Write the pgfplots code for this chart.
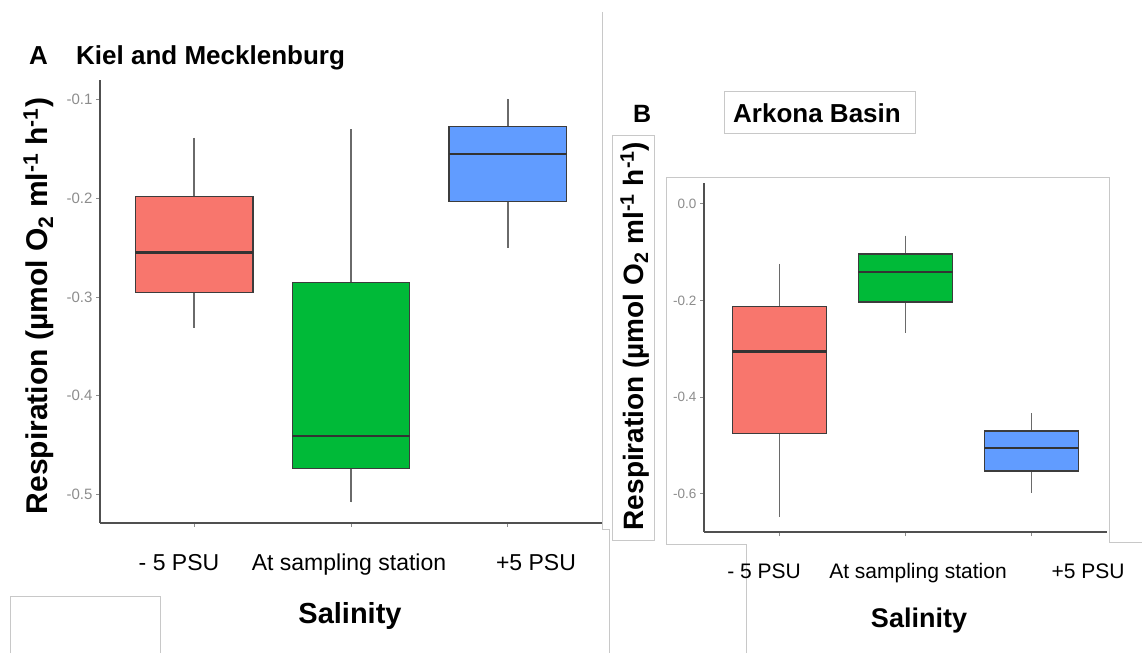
\documentclass[border=0pt]{standalone}
\usepackage{fontspec}
\setmainfont{Liberation Sans}
\usepackage{pgfplots}
\pgfplotsset{compat=1.18}
\usepgfplotslibrary{statistics}
\definecolor{cred}{HTML}{F8766D}
\definecolor{cgreen}{HTML}{00BA38}
\definecolor{cblue}{HTML}{619CFF}
\definecolor{boxedge}{HTML}{3C3C3C}
\definecolor{whisk}{HTML}{6A6A6A}
\definecolor{medc}{HTML}{333333}
\definecolor{axc}{HTML}{505050}
\definecolor{tickgray}{HTML}{8C8C8C}
\definecolor{frame}{HTML}{C8C8C8}
\pgfplotsset{
  ggbox/.style={
    scale only axis, clip=false,
    axis x line*=bottom, axis y line*=left,
    axis line style={-, draw=axc, line width=1.4pt},
    tick align=outside, major tick length=4pt,
    tick style={draw=tickgray, line width=1pt},
    xmin=-0.6, xmax=2.6,
    xtick={0,1,2}, xticklabels={},
    boxplot/draw direction=y,
    boxplot/every whisker/.style={draw=whisk, line width=1.3pt},
    boxplot/every median/.style={draw=medc, line width=2.6pt},
  },
  bx/.style={draw=boxedge, line width=1.2pt, fill=#1},
}
\begin{document}
\begin{tikzpicture}
\begin{scope}[x=1pt,y=1pt]
\path[use as bounding box] (0,0) rectangle (1142,653);
% screenshot frame remnants
\begin{scope}[draw=frame, line width=1pt]
\draw (602,641) -- (602,123) -- (609,123) -- (609,0);
\draw (612,112) rectangle (654,517);
\draw (746,0) -- (746,108) -- (666,108) -- (666,475) -- (1109,475) -- (1109,110) -- (1142,110);
\draw (724,519) rectangle (915,561);
\draw (10,0) -- (10,57) -- (160,57) -- (160,0);
\end{scope}
\end{scope}

% ---------------- Panel A ----------------
\begin{axis}[ggbox,
  at={(100pt,130pt)}, anchor=south west,
  width=502pt, height=443pt,
  ymin=-0.529, ymax=-0.08,
  ytick={-0.5,-0.4,-0.3,-0.2,-0.1},
  yticklabels={-0.5,-0.4,-0.3,-0.2,-0.1},
  yticklabel style={font=\fontsize{15}{15}\selectfont, text=tickgray},
]
\addplot[bx=cred, boxplot prepared={draw position=0, box extend=0.75, whisker extend=0,
  lower whisker=-0.331, lower quartile=-0.295, median=-0.255, upper quartile=-0.198, upper whisker=-0.1385}] coordinates {};
\addplot[bx=cgreen, boxplot prepared={draw position=1, box extend=0.75, whisker extend=0,
  lower whisker=-0.508, lower quartile=-0.474, median=-0.441, upper quartile=-0.2856, upper whisker=-0.130}] coordinates {};
\addplot[bx=cblue, boxplot prepared={draw position=2, box extend=0.75, whisker extend=0,
  lower whisker=-0.250, lower quartile=-0.2035, median=-0.155, upper quartile=-0.1275, upper whisker=-0.099}] coordinates {};
\end{axis}

% ---------------- Panel B ----------------
\begin{axis}[ggbox,
  at={(704pt,121pt)}, anchor=south west,
  width=403pt, height=349pt,
  ymin=-0.679, ymax=0.043,
  ytick={-0.6,-0.4,-0.2,0},
  yticklabels={-0.6,-0.4,-0.2,0.0},
  yticklabel style={font=\fontsize{13.5}{13.5}\selectfont, text=tickgray},
]
\addplot[bx=cred, boxplot prepared={draw position=0, box extend=0.75, whisker extend=0,
  lower whisker=-0.648, lower quartile=-0.476, median=-0.306, upper quartile=-0.213, upper whisker=-0.124}] coordinates {};
\addplot[bx=cgreen, boxplot prepared={draw position=1, box extend=0.75, whisker extend=0,
  lower whisker=-0.267, lower quartile=-0.203, median=-0.141, upper quartile=-0.104, upper whisker=-0.066}] coordinates {};
\addplot[bx=cblue, boxplot prepared={draw position=2, box extend=0.75, whisker extend=0,
  lower whisker=-0.598, lower quartile=-0.553, median=-0.505, upper quartile=-0.470, upper whisker=-0.433}] coordinates {};
\end{axis}

\begin{scope}[x=1pt,y=1pt]
\begin{scope}[font=\fontsize{23}{23}\selectfont]
\node[anchor=base] at (179,83) {- 5 PSU};
\node[anchor=base] at (349,83) {At sampling station};
\node[anchor=base] at (536,83) {+5 PSU};
\end{scope}
\node[anchor=base, font=\fontsize{29}{29}\selectfont\bfseries] at (350,30) {Salinity};
\node[anchor=base west, inner sep=0pt, font=\fontsize{26}{26}\selectfont\bfseries] at (29,588) {A};
\node[anchor=base west, inner sep=0pt, font=\fontsize{26}{26}\selectfont\bfseries] at (76,588) {Kiel and Mecklenburg};
\node[rotate=90, anchor=base, inner sep=0pt, font=\fontsize{30}{30}\selectfont\bfseries] at (47,347)
  {Respiration (µmol O\textsubscript{2} ml\textsuperscript{-1} h\textsuperscript{-1})};
\begin{scope}[font=\fontsize{21}{21}\selectfont]
\node[anchor=base] at (764,75) {- 5 PSU};
\node[anchor=base] at (918,75) {At sampling station};
\node[anchor=base] at (1088,75) {+5 PSU};
\end{scope}
\node[anchor=base, font=\fontsize{27}{27}\selectfont\bfseries] at (919,26) {Salinity};
\node[anchor=base west, inner sep=0pt, font=\fontsize{25}{25}\selectfont\bfseries] at (633,530) {B};
\node[anchor=base west, inner sep=0pt, font=\fontsize{26}{26}\selectfont\bfseries] at (733,530) {Arkona Basin};
\node[rotate=90, anchor=base, inner sep=0pt, font=\fontsize{28}{28}\selectfont\bfseries] at (643,317)
  {Respiration (µmol O\textsubscript{2} ml\textsuperscript{-1} h\textsuperscript{-1})};
\end{scope}
\end{tikzpicture}
\end{document}
